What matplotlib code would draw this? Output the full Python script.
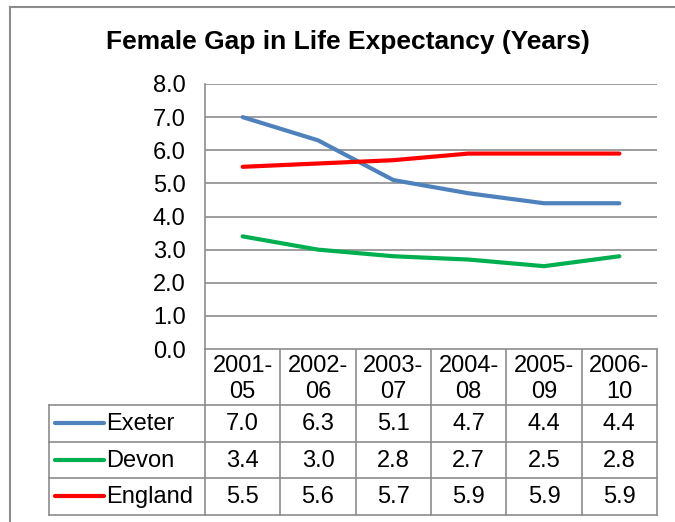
import matplotlib
matplotlib.use("Agg")
import matplotlib.pyplot as plt

plt.rcParams["font.family"] = ["Liberation Sans", "DejaVu Sans"]

periods = ["2001-\n05", "2002-\n06", "2003-\n07", "2004-\n08", "2005-\n09", "2006-\n10"]
series = ["Exeter", "Devon", "England"]
exeter = [7.0, 6.3, 5.1, 4.7, 4.4, 4.4]
devon = [3.4, 3.0, 2.8, 2.7, 2.5, 2.8]
england = [5.5, 5.6, 5.7, 5.9, 5.9, 5.9]
values = [exeter, devon, england]
colors = ["#4F81BD", "#00B050", "#FF0000"]
yticks = [0, 1, 2, 3, 4, 5, 6, 7, 8]

W, H = 675, 522
fig = plt.figure(figsize=(W / 100, H / 100), dpi=100)

# overlay in pixel coords for border + data table
ov = fig.add_axes([0, 0, 1, 1])
ov.set_xlim(0, W); ov.set_ylim(H, 0); ov.axis("off")
grey = "#8C8C8C"
ov.plot([10, 10], [7, H], color=grey, lw=1.5)
ov.plot([10, W], [7, 7], color=grey, lw=1.5)

L, R, T, B = 205, 657, 84, 349
ax = fig.add_axes([L / W, 1 - B / H, (R - L) / W, (B - T) / H])
n = len(periods)
x = range(n)
for vals, c, name in zip(values, colors, series):
    ax.plot(x, vals, color=c, lw=3, solid_capstyle="round", label=name)
ax.set_xlim(-0.5, n - 0.5)
ax.set_ylim(0, 8)
ax.set_yticks(yticks)
ax.set_yticklabels([f"{v:.1f}" for v in yticks], fontsize=17)
ax.yaxis.grid(True, color=grey, lw=1.2)
ax.set_axisbelow(True)
ax.tick_params(axis="y", length=0, pad=14)
ax.set_xticks([])
for s in ["top", "right", "bottom"]:
    ax.spines[s].set_visible(False)
ax.spines["left"].set_color(grey)
ax.spines["left"].set_linewidth(1.2)

fig.text(0.5 * (105 + 590) / W, 1 - 42 / H, "Female Gap in Life Expectancy (Years)",
         ha="center", va="center", fontsize=19, fontweight="bold")

# data table
colw = (R - L) / n
hdr_b = 405
row_h = 36.5
tl = 49
tb = hdr_b + row_h * len(series)
lc = dict(color=grey, lw=1.2)
for i in range(n + 1):
    xx = L + i * colw
    ov.plot([xx, xx], [B, tb], **lc)
ov.plot([L, R], [B, B], **lc)
ov.plot([tl, tl], [hdr_b, tb], **lc)
for j in range(len(series) + 1):
    yy = hdr_b + j * row_h
    ov.plot([tl, R], [yy, yy], **lc)
for i, p in enumerate(periods):
    ov.text(L + (i + 0.5) * colw, (B + hdr_b) / 2 + 2, p, ha="center", va="center",
            fontsize=17, linespacing=1.2)
for j, (name, vals, c) in enumerate(zip(series, values, colors)):
    yc = hdr_b + (j + 0.5) * row_h
    ov.plot([55, 104], [yc, yc], color=c, lw=3, solid_capstyle="round")
    ov.text(106, yc + 1, name, ha="left", va="center", fontsize=17)
    for i, v in enumerate(vals):
        ov.text(L + (i + 0.5) * colw, yc + 1, f"{v:.1f}", ha="center", va="center",
                fontsize=17)

fig.savefig("out.png", dpi=100)
